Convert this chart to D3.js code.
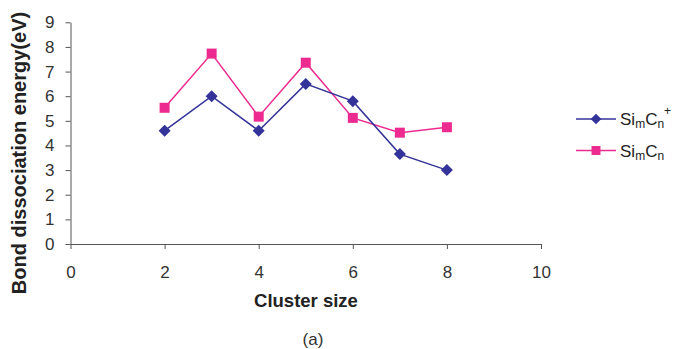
<!doctype html>
<html lang="en">
<head>
    <meta charset="utf-8">
    <title>Bond dissociation energy</title>
    <style>
        body {
            margin: 0;
            background-color: white;
            font-family: 'Liberation Sans', Arial, sans-serif;
        }
        .axis path, .axis line {
            stroke: #555;
        }
        .title {
            font-family: 'Liberation Sans', Arial, sans-serif;
            font-weight: bold;
            fill: #222;
        }
    </style>
</head>
<body>
    <svg id="chart"></svg>
    <script src="https://d3js.org/d3.v7.min.js"></script>
    <script>
        var clusterSize = [2, 3, 4, 5, 6, 7, 8];
        var cationEnergy = [4.6, 6.0, 4.6, 6.5, 5.8, 3.65, 3.0];
        var neutralEnergy = [5.53, 7.73, 5.17, 7.36, 5.12, 4.52, 4.74];
        var xTicks = [0, 2, 4, 6, 8, 10];
        var yTicks = [0, 1, 2, 3, 4, 5, 6, 7, 8, 9];

        var svgWidth = 675, svgHeight = 349;
        var margin = { top: 22.3, right: 134, bottom: 105, left: 70.5 };
        var width = svgWidth - margin.left - margin.right;
        var height = svgHeight - margin.top - margin.bottom;

        var svg = d3.select("#chart")
            .attr("width", svgWidth)
            .attr("height", svgHeight);

        var g = svg.append("g")
            .attr("transform", "translate(" + margin.left + "," + margin.top + ")");

        var x = d3.scaleLinear().domain([0, 10]).range([0, width]);
        var y = d3.scaleLinear().domain([0, 9]).range([height, 0]);

        var xAxis = g.append("g")
            .attr("class", "axis")
            .attr("transform", "translate(0," + height + ")")
            .call(d3.axisBottom(x).tickValues(xTicks).tickSize(5).tickSizeOuter(0).tickPadding(17));

        var yAxis = g.append("g")
            .attr("class", "axis")
            .call(d3.axisLeft(y).tickValues(yTicks).tickSize(5).tickSizeOuter(0).tickPadding(11));

        [xAxis, yAxis].forEach(function (a) {
            a.attr("font-family", "'Liberation Sans', Arial, sans-serif")
                .attr("font-size", 17);
            a.selectAll("text").attr("fill", "#333");
        });

        // diamond drawn as a 45-degree square, like the spreadsheet marker
        var diamond = {
            draw: function (ctx, size) {
                var r = Math.sqrt(size) / 2 * Math.SQRT2;
                ctx.moveTo(0, -r);
                ctx.lineTo(r, 0);
                ctx.lineTo(0, r);
                ctx.lineTo(-r, 0);
                ctx.closePath();
            }
        };

        var series = [
            { name: "cation", values: cationEnergy, color: "#333399", shape: diamond, size: 72 },
            { name: "neutral", values: neutralEnergy, color: "#ec2a8f", shape: d3.symbolSquare, size: 100 }
        ];

        var line = d3.line()
            .x(function (d) { return x(d[0]); })
            .y(function (d) { return y(d[1]); });

        // neutral first so the cation line sits on top
        series.slice().reverse().forEach(function (s) {
            var pts = clusterSize.map(function (c, i) { return [c, s.values[i]]; });
            g.append("path")
                .datum(pts)
                .attr("fill", "none")
                .attr("stroke", s.color)
                .attr("stroke-width", 1.5)
                .attr("d", line);
            g.selectAll(".pt-" + s.name)
                .data(pts)
                .enter().append("path")
                .attr("transform", function (d) { return "translate(" + x(d[0]) + "," + y(d[1]) + ")"; })
                .attr("d", d3.symbol().type(s.shape).size(s.size))
                .attr("fill", s.color);
        });

        // legend
        var legend = svg.append("g").attr("transform", "translate(576,119)");
        var labels = [
            { sub1: "m", sub2: "n", sup: "+" },
            { sub1: "m", sub2: "n", sup: "" }
        ];
        series.forEach(function (s, i) {
            var row = legend.append("g").attr("transform", "translate(0," + (i * 31.5) + ")");
            row.append("line")
                .attr("x1", 0).attr("x2", 40)
                .attr("stroke", s.color).attr("stroke-width", 1.5);
            row.append("path")
                .attr("transform", "translate(20,0)")
                .attr("d", d3.symbol().type(s.shape).size(s.size * 0.8))
                .attr("fill", s.color);
            var t = row.append("text")
                .attr("x", 44).attr("y", 6)
                .style("font-size", "17px").style("fill", "#222");
            t.append("tspan").text("Si");
            t.append("tspan").attr("font-size", "12px").attr("dy", 3).text(labels[i].sub1);
            t.append("tspan").attr("dy", -3).text("C");
            t.append("tspan").attr("font-size", "12px").attr("dy", 3).text(labels[i].sub2);
            if (labels[i].sup) {
                t.append("tspan").attr("font-size", "12px").attr("dy", -13).text(labels[i].sup);
            }
        });

        svg.append("text")
            .attr("class", "title")
            .attr("text-anchor", "middle")
            .style("font-size", "20px")
            .attr("transform", "translate(26,153) rotate(-90)")
            .text("Bond dissociation energy(eV)");

        svg.append("text")
            .attr("class", "title")
            .attr("text-anchor", "middle")
            .style("font-size", "18.5px")
            .attr("x", 306).attr("y", 307)
            .text("Cluster size");

        svg.append("text")
            .attr("text-anchor", "middle")
            .attr("x", 313).attr("y", 345)
            .style("font-size", "17px").style("fill", "#333")
            .text("(a)");
    </script>
</body>
</html>
